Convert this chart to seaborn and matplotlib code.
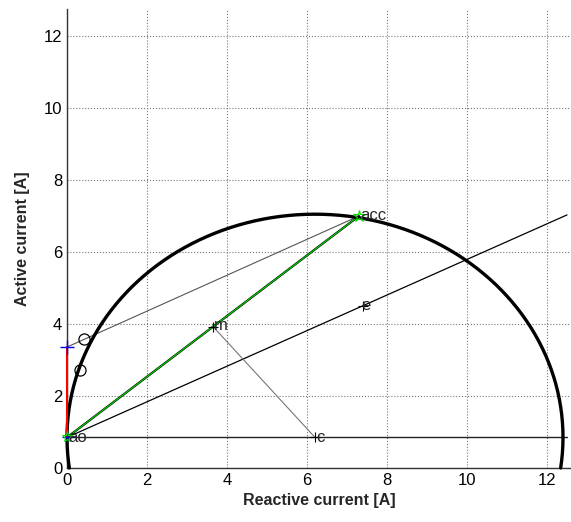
import numpy as np
import matplotlib
matplotlib.use("Agg")
import matplotlib.pyplot as plt
import seaborn as sns

sns.set_style("white")
plt.rcParams['font.family'] = ['Liberation Sans', 'DejaVu Sans']

# Key points of the circle diagram (reactive, active current in A)
ao = (0.0, 0.85)        # no-load point
acc = (7.3, 7.0)        # short-circuit point
m = (3.65, 3.93)        # midpoint of ao-acc
c = (6.2, 0.85)         # circle centre
e = (7.4, 4.51)         # point on the torque line
rated = (0.0, 3.36)     # projection on active axis
op_points_x = [0.43, 0.33]
op_points_y = [3.57, 2.72]
torque_line_end = (12.5, 7.03)
radius = 6.2
ticks = [0, 2, 4, 6, 8, 10, 12]

fig = plt.figure(figsize=(5.71, 5.22), dpi=100)
ax = fig.add_axes([67 / 571, 54 / 522, 504 / 571, 459 / 522])

# circle arc through ao, clipped at the x axis
th0 = np.arcsin(-c[1] / radius)
theta = np.linspace(th0, np.pi - th0, 400)
sns.lineplot(x=c[0] + radius * np.cos(theta), y=c[1] + radius * np.sin(theta),
             sort=False, color='black', linewidth=2.4, ax=ax, zorder=4,
             clip_on=False)

# base line through ao and the centre
ax.plot([ao[0], torque_line_end[0]], [ao[1], ao[1]], color='#222222', lw=1.0)
# torque line ao-e
ax.plot([ao[0], torque_line_end[0]], [ao[1], torque_line_end[1]], color='black', lw=0.9)
# output line ao-acc
ax.plot([ao[0], acc[0]], [ao[1], acc[1]], color='black', lw=1.6)
ax.plot([ao[0], acc[0]], [ao[1], acc[1]], color='#00dd00', lw=0.8)
# perpendicular bisector m-c
ax.plot([m[0], c[0]], [m[1], c[1]], color='#777777', lw=0.8)
# line from acc to the active axis
ax.plot([acc[0], rated[0]], [acc[1], rated[1]], color='#555555', lw=0.8)
# vertical from ao
ax.plot([ao[0], rated[0]], [ao[1], rated[1]], color='red', lw=1.5, zorder=5,
        clip_on=False)

# markers
ax.plot(op_points_x, op_points_y, 'o', mfc='none', mec='black', ms=8, mew=0.9)
ax.plot(*rated, '+', color='blue', ms=10, mew=1.0, zorder=6, clip_on=False)
ax.plot(*ao, '+', color='blue', ms=7, mew=1.0, zorder=6, clip_on=False)
ax.plot(*ao, '*', color='#00dd00', ms=8, mfc='none', mew=0.8, zorder=6, clip_on=False)
ax.plot(*acc, '*', color='#00dd00', ms=9, mfc='none', mew=0.8, zorder=6)
for p in (m, e, c):
    ax.plot(*p, '+', color='black', ms=7, mew=0.8, zorder=6)

lab_kw = dict(fontsize=12, va='center', ha='left', zorder=7)
ax.text(ao[0] + 0.02, ao[1], 'ao', **lab_kw)
ax.text(acc[0] + 0.02, acc[1], 'acc', **lab_kw)
ax.text(m[0] + 0.02, m[1] + 0.02, 'm', **lab_kw)
ax.text(c[0] + 0.02, c[1], 'c', **lab_kw)
ax.text(e[0] - 0.05, e[1], 'e', **lab_kw)

ax.set_xlim(0, 12.6)
ax.set_ylim(0, 12.75)
ax.set_xticks(ticks)
ax.set_yticks(ticks)
ax.tick_params(direction='in', length=4, labelsize=12, colors='black', width=0.8)
ax.grid(True, linestyle=':', color='#777777', linewidth=0.8)
for side in ('top', 'right'):
    ax.spines[side].set_visible(False)
for side in ('left', 'bottom'):
    ax.spines[side].set_color('#333333')
    ax.spines[side].set_linewidth(1.0)

ax.set_xlabel('Reactive current [A]', fontsize=11.5, fontweight='bold', labelpad=4)
ax.set_ylabel('Active current [A]', fontsize=11.5, fontweight='bold', labelpad=10)

fig.savefig('out.png', dpi=100)
